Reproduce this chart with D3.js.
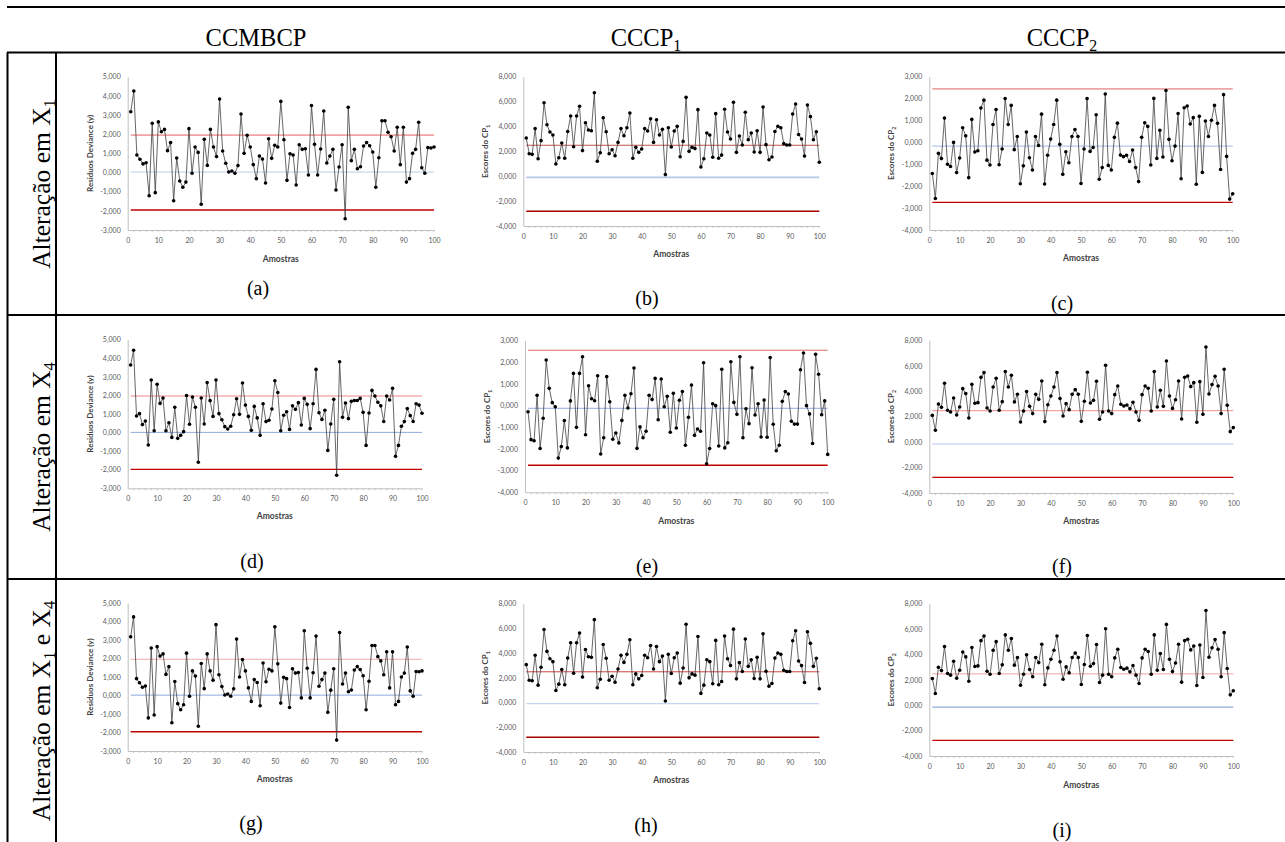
<!DOCTYPE html>
<html>
<head>
<meta charset="utf-8">
<script src="https://cdn.jsdelivr.net/npm/d3@7"></script>
<style>
  body { margin: 0; background: #fff; }
  svg { display: block; }
</style>
</head>
<body>
<div id="chart"></div>
<script>

// samples 1..100
var samples = d3.range(1, 101)

// residuos deviance, used in (a) and (g)
var residA = [3.17,4.25,0.91,0.69,0.45,0.51,-1.21,2.57,-1.05,2.64,
  2.13,2.25,1.14,1.56,-1.47,0.76,-0.44,-0.77,-0.50,2.29,
  -0.04,1.33,1.05,-1.66,1.73,0.37,2.25,1.33,0.83,3.83,
  1.12,0.48,0.03,0.08,-0.04,0.36,3.05,1.00,1.94,1.33,
  0.41,-0.32,0.86,0.70,-0.55,1.76,0.74,1.42,1.33,3.71,
  1.71,-0.41,0.98,0.91,-0.65,1.45,1.21,1.24,-0.13,3.50,
  1.47,-0.13,1.23,3.21,0.50,0.86,1.21,-0.91,0.29,1.45,
  -2.41,3.40,0.62,1.21,0.20,0.30,1.38,1.56,1.40,1.07,
  -0.77,0.77,2.70,2.70,2.10,1.87,1.12,2.36,0.41,2.36,
  -0.50,-0.32,1.00,1.21,2.62,0.25,-0.04,1.30,1.28,1.33]

// escores CP1, used in (b) and (h)
var scoreB = [3.07,1.81,1.76,3.83,1.41,2.86,5.91,4.14,3.55,3.31,
  0.98,1.49,2.67,1.44,3.60,4.84,2.37,4.84,5.62,2.06,
  4.30,3.71,3.66,6.71,1.20,1.89,4.70,3.58,1.81,2.13,
  1.65,2.72,3.83,3.25,3.90,5.08,1.44,2.32,1.92,2.19,
  3.83,3.63,4.62,2.72,4.54,3.31,3.77,0.13,3.90,2.35,
  3.63,4.01,1.57,2.80,6.34,2.00,2.32,2.22,5.35,0.74,
  1.41,3.47,3.31,1.52,5.03,1.44,1.70,5.38,3.55,2.99,
  5.94,1.92,3.23,2.51,5.14,2.93,3.47,1.95,3.66,1.92,
  5.56,2.54,1.33,1.54,3.60,4.01,3.90,2.62,2.51,2.51,
  5.00,5.81,3.36,2.99,1.62,5.73,4.79,2.93,3.58,1.12]

// escores CP2, (c)
var scoreC = [-1.42,-2.56,-0.50,-0.74,1.11,-1.00,-1.10,0.00,-1.38,-0.71,
  0.67,0.30,-1.61,1.05,-0.44,-0.38,1.57,1.93,-0.81,-1.03,
  0.82,1.50,-1.02,-0.30,2.00,0.82,1.69,-0.33,0.27,-1.89,
  -1.07,0.47,-0.70,-1.26,0.27,-0.14,1.29,-1.90,-0.59,0.15,
  0.82,1.93,-0.09,-1.46,-0.43,-0.93,0.27,0.59,0.27,-1.88,
  -0.30,2.00,-0.41,-0.23,1.26,-1.68,-1.15,2.21,-1.05,-1.26,
  0.23,0.88,-0.58,-0.65,-0.59,-0.87,-0.35,-1.15,-1.79,0.23,
  0.90,0.73,-1.03,2.01,-0.73,0.55,-0.67,2.37,0.14,-0.84,
  -0.17,1.32,-1.66,1.58,1.66,0.84,1.13,-1.91,1.19,-1.37,
  0.98,0.27,1.01,1.69,0.87,-1.24,2.18,-0.64,-2.59,-2.35]

// residuos deviance, (d)
var residD = [3.64,4.43,0.89,1.02,0.43,0.62,-0.67,2.83,0.10,2.60,
  1.57,1.86,0.10,0.53,-0.26,1.36,-0.31,-0.15,0.05,1.99,
  0.45,1.91,1.36,-1.60,1.86,0.46,2.69,1.72,0.87,2.83,
  1.02,0.69,0.32,0.19,0.34,0.96,1.82,0.98,2.67,1.48,
  0.87,0.12,1.41,0.79,-0.15,1.55,0.59,0.66,1.27,2.79,
  2.16,0.10,0.93,1.12,0.17,1.44,1.25,1.61,0.41,1.84,
  1.52,0.21,1.55,3.40,1.07,0.71,1.20,-0.96,0.46,1.79,
  -2.30,3.81,0.82,1.59,0.75,1.68,1.73,1.73,1.84,1.09,
  -0.69,1.05,2.27,1.97,1.63,1.44,0.60,1.97,1.75,2.38,
  -1.28,-0.69,0.34,0.59,1.29,0.91,0.60,1.55,1.48,1.04]

// escores CP1, (e)
var scoreE = [-0.28,-1.57,-1.62,0.48,-1.98,-0.58,2.11,0.80,0.14,-0.05,
  -2.42,-1.89,-0.69,-1.95,0.22,1.49,-1.00,1.49,2.26,-1.34,
  0.92,0.32,0.23,1.38,-2.23,-1.48,1.34,0.18,-1.55,-1.26,
  -1.72,-0.68,0.48,-0.11,0.55,1.74,-1.97,-0.98,-1.48,-1.18,
  0.48,0.28,1.26,-0.65,1.23,-0.05,0.43,-1.23,0.57,-1.03,
  0.25,0.65,-1.83,-0.54,0.95,-1.37,-1.08,-1.18,1.98,-2.68,
  -1.98,0.09,0.00,-1.86,1.68,-1.95,-1.71,2.03,0.15,-0.40,
  2.26,-1.48,-0.14,-0.83,1.75,-0.43,0.09,-1.45,0.26,-1.46,
  2.22,-0.86,-2.08,-1.83,0.20,0.65,0.54,-0.72,-0.85,-0.85,
  1.66,2.43,0.00,-0.38,-1.75,2.37,1.45,-0.42,0.22,-2.25]

// escores CP2, used in (f) and (i)
var scoreF = [2.10,0.93,2.99,2.73,4.62,2.50,2.37,3.47,2.13,2.76,
  4.20,3.81,1.89,4.54,3.05,3.10,5.09,5.46,2.68,2.44,
  4.33,5.01,2.50,3.18,5.54,4.33,5.25,3.16,3.76,1.58,
  2.44,3.97,2.81,2.24,3.76,3.36,4.80,1.61,2.94,3.62,
  4.33,5.46,3.42,2.05,3.02,2.55,3.76,4.12,3.76,1.63,
  3.21,5.49,3.07,3.28,4.78,1.79,2.37,6.03,2.44,2.24,
  3.73,4.41,2.97,2.84,2.92,2.63,3.13,2.37,1.71,3.73,
  4.41,4.23,2.44,5.54,2.76,4.07,2.81,6.37,3.62,2.65,
  3.33,4.80,1.82,5.09,5.20,4.36,4.67,1.56,4.75,2.18,
  7.47,3.78,4.52,5.17,4.41,2.24,5.72,2.89,0.82,1.14]

// control limits [UCL, LC, LCL]
var limA = [1.95, 0.02, -1.96]
var limB = [2.49, -0.09, -2.81]
var limC = [2.44, -0.17, -2.74]
var limD = [1.97, 0.01, -1.98]
var limE = [2.56, -0.12, -2.75]
var limF = [2.47, -0.15, -2.77]

// tick labels
var ticksRes = [-3, -2, -1, 0, 1, 2, 3, 4, 5]
var ticksWide = [-4, -2, 0, 2, 4, 6, 8]
var ticksNarrow = [-4, -3, -2, -1, 0, 1, 2, 3]
var xTicks = [0, 10, 20, 30, 40, 50, 60, 70, 80, 90, 100]

var colHeads = [["CCMBCP", ""], ["CCCP", "1"], ["CCCP", "2"]]
var rowHeads = [[["Alteração em X", "1"]],
                [["Alteração em X", "4"]],
                [["Alteração em X", "1"], [" e X", "4"]]]
var letters = ["(a)", "(b)", "(c)", "(d)", "(e)", "(f)", "(g)", "(h)", "(i)"]

var W = 1285, H = 842

var svg = d3.select("#chart").append("svg")
  .attr("width", W).attr("height", H)

svg.append("rect").attr("width", W).attr("height", H).attr("fill", "#fff")

// table lines
var hLines = [7, 52.5, 315, 579]
hLines.forEach(function(yy){
  svg.append("line").attr("x1", 7).attr("x2", W).attr("y1", yy).attr("y2", yy)
    .attr("stroke", "#000").attr("stroke-width", 2.2)
})
;[7.5, 56].forEach(function(xx){
  svg.append("line").attr("x1", xx).attr("x2", xx).attr("y1", 52.5).attr("y2", H)
    .attr("stroke", "#000").attr("stroke-width", 2)
})

var serif = "'Liberation Serif', 'Times New Roman', serif"
var sans = "Lato, 'Open Sans', 'Liberation Sans', sans-serif"

// text with subscripts, parts = [[main, sub], ...]
function subText(sel, parts, size){
  var back = 0
  parts.forEach(function(p){
    var m = sel.append("tspan").text(p[0])
    if(back) { m.attr("dy", -back); back = 0 }
    if(p[1]) {
      sel.append("tspan").attr("font-size", size * 0.65).attr("dy", size * 0.2).text(p[1])
      back = size * 0.2
    }
  })
}

// column headers
var colX = [256, 646, 1062]
colHeads.forEach(function(c, i){
  var t = svg.append("text").attr("x", colX[i]).attr("y", 46)
    .attr("text-anchor", "middle").attr("font-family", serif).attr("font-size", 24.5)
  subText(t, [c], 24.5)
})

// row headers (rotated)
var rowY = [184, 447, 711]
rowHeads.forEach(function(r, i){
  var t = svg.append("text")
    .attr("transform", "translate(50," + rowY[i] + ") rotate(-90)")
    .attr("text-anchor", "middle").attr("font-family", serif).attr("font-size", 25.5)
  subText(t, r, 25.5)
})

var fmtLocale = d3.formatLocale({decimal: ",", thousands: ".", grouping: [3], currency: ["", ""], minus: "-"})
var yFmt = fmtLocale.format(".3f")

// one entry per panel
var panels = [
  {id: 0, data: residA, lim: limA, ticks: ticksRes, x0: 127.7, x1: 434, yt: 76.7, yb: 230, title: [["Residuos Deviance (y)", ""]], amY: 262, lx: 258, ly: 295,
   col: ["#f4a3a3", "#dae3f3", "#c00000"], w: [1.8, 1.8, 1.4]},
  {id: 1, data: scoreB, lim: limB, ticks: ticksWide, x0: 523.3, x1: 819.3, yt: 76.7, yb: 226, title: [["Escores do CP", "1"]], amY: 257, lx: 647, ly: 305,
   col: ["#c0504d", "#b4c7e7", "#a50000"], w: [1, 1.8, 1.4]},
  {id: 2, data: scoreC, lim: limC, ticks: ticksNarrow, x0: 929.3, x1: 1232.7, yt: 76.7, yb: 230, title: [["Escores do CP", "2"]], amY: 261, lx: 1062, ly: 310,
   col: ["#eda6a6", "#b4c7e7", "#c00000"], w: [1.8, 1.4, 1.4]},
  {id: 3, data: residD, lim: limD, ticks: ticksRes, x0: 127.7, x1: 422, yt: 339.7, yb: 488.3, title: [["Residuos Deviance (y)", ""]], amY: 519, lx: 252, ly: 568,
   col: ["#f08585", "#8faadc", "#c00000"], w: [1.2, 1, 1.4]},
  {id: 4, data: scoreE, lim: limE, ticks: ticksNarrow, x0: 525, x1: 827.7, yt: 340.7, yb: 492.3, title: [["Escores do CP", "1"]], amY: 524, lx: 647, ly: 573,
   col: ["#e06666", "#8faadc", "#c00000"], w: [1, 1, 1.4]},
  {id: 5, data: scoreF, lim: limF, ticks: ticksWide, x0: 929.3, x1: 1233.3, yt: 340.3, yb: 493, title: [["Escores do CP", "2"]], amY: 524, lx: 1062, ly: 573,
   col: ["#f4a3a3", "#b4c7e7", "#c00000"], w: [1.4, 1.2, 1.4]},
  {id: 6, data: residA, lim: limA, ticks: ticksRes, x0: 127.7, x1: 422, yt: 603, yb: 751, title: [["Residuos Deviance (y)", ""]], amY: 782, lx: 251, ly: 830,
   col: ["#f7bcbc", "#8faadc", "#c00000"], w: [1.2, 1, 1.4]},
  {id: 7, data: scoreB, lim: limB, ticks: ticksWide, x0: 523.3, x1: 819.3, yt: 603.7, yb: 752, title: [["Escores do CP", "1"]], amY: 783, lx: 646, ly: 832,
   col: ["#cc4444", "#c5d5f0", "#a50000"], w: [1, 1.2, 1.4]},
  {id: 8, data: scoreF, lim: limF, ticks: ticksWide, x0: 929.3, x1: 1233.3, yt: 603.7, yb: 756, title: [["Escores do CP", "2"]], amY: 788, lx: 1062, ly: 837,
   col: ["#f4a3a3", "#8faadc", "#c00000"], w: [1, 1.2, 1.4]}
]

function drawPanel(p){
  var g = svg.append("g")

  var x = d3.scaleLinear().domain([0, 100]).range([p.x0, p.x1])
  var y = d3.scaleLinear().domain([p.ticks[0], p.ticks[p.ticks.length - 1]]).range([p.yb, p.yt])

  // y axis
  var ya = g.append("g").attr("transform", "translate(" + p.x0 + ",0)")
    .call(d3.axisLeft(y).tickValues(p.ticks).tickSize(0).tickPadding(7).tickFormat(yFmt))
  ya.select(".domain").attr("stroke", "#bfbfbf")
  ya.selectAll("text").attr("font-family", sans).attr("font-size", 7).attr("fill", "#595959")

  // x axis
  var xa = g.append("g").attr("transform", "translate(0," + p.yb + ")")
    .call(d3.axisBottom(x).tickValues(xTicks).tickSize(0).tickPadding(8).tickFormat(d3.format("d")))
  xa.select(".domain").attr("stroke", "#bfbfbf")
  xa.selectAll("text").attr("font-family", sans).attr("font-size", 7).attr("fill", "#595959")

  // small tick marks along x
  g.selectAll(".minor").data(d3.range(2, 101, 2)).enter().append("line")
    .attr("x1", function(d){ return x(d) }).attr("x2", function(d){ return x(d) })
    .attr("y1", p.yb).attr("y2", p.yb + 2)
    .attr("stroke", "#bfbfbf").attr("stroke-width", 0.8)

  // control lines
  p.lim.forEach(function(v, k){
    g.append("line").attr("x1", x(1)).attr("x2", x(100))
      .attr("y1", y(v)).attr("y2", y(v))
      .attr("stroke", p.col[k]).attr("stroke-width", p.w[k])
  })

  // series
  g.append("path").datum(p.data)
    .attr("fill", "none").attr("stroke", "#404040").attr("stroke-width", 0.8)
    .attr("d", d3.line().x(function(d, i){ return x(samples[i]) }).y(function(d){ return y(d) }))

  g.selectAll(".pt").data(p.data).enter().append("circle")
    .attr("cx", function(d, i){ return x(samples[i]) })
    .attr("cy", function(d){ return y(d) })
    .attr("r", 1.8).attr("fill", "#000")

  // axis titles
  g.append("text").attr("x", (p.x0 + p.x1) / 2).attr("y", p.amY)
    .attr("text-anchor", "middle").attr("font-family", sans).attr("font-weight", "bold")
    .attr("font-size", 8.5).attr("fill", "#404040").text("Amostras")

  var yt = g.append("text")
    .attr("transform", "translate(" + (p.x0 - 35) + "," + ((p.yt + p.yb) / 2) + ") rotate(-90)")
    .attr("text-anchor", "middle").attr("font-family", sans).attr("font-weight", "bold")
    .attr("font-size", 8).attr("fill", "#404040")
  subText(yt, p.title, 8)

  // panel letter
  svg.append("text").attr("x", p.lx).attr("y", p.ly)
    .attr("text-anchor", "middle").attr("font-family", serif).attr("font-size", 20)
    .text(letters[p.id])
}

panels.forEach(drawPanel)

</script>
</body>
</html>
